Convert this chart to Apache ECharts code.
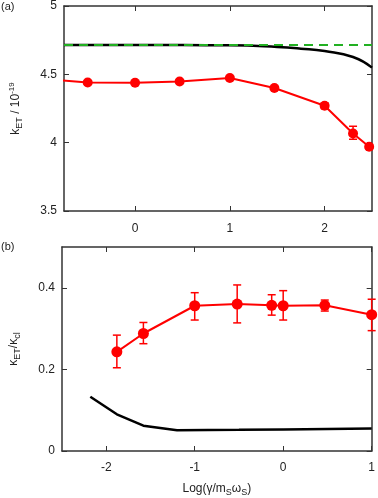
<!DOCTYPE html>
<html>
<head>
<meta charset="utf-8">
<script src="https://cdn.jsdelivr.net/npm/echarts@6/dist/echarts.min.js"></script>
<style>
  html, body { margin: 0; padding: 0; background: #fff; }
  #chart { width: 378px; height: 498px; }
</style>
</head>
<body>
<div id="chart"></div>
<script>
// panel (a): k_ET vs log(gamma)
const aRedX = [-1, -0.5, 0, 0.47, 1, 1.47, 2, 2.3, 2.47];
const aRedY = [4.468, 4.44, 4.438, 4.447, 4.473, 4.40, 4.27, 4.067, 3.97];
const aErrX = [2, 2.3, 2.47];
const aErrLo = [4.25, 4.025, 3.955];
const aErrHi = [4.29, 4.12, 3.985];
const aBlackX = [-0.75, 0, 0.5, 1, 1.5, 1.75, 2, 2.3, 2.5];
const aBlackY = [4.715, 4.715, 4.714, 4.712, 4.70, 4.688, 4.67, 4.627, 4.549];
const aGreenX = [-0.75, 2.5];
const aGreenY = [4.715, 4.715];
const aXTicks = [0, 1, 2];

// panel (b): kappa_ET / kappa_cl
const bRedX = [-1.88, -1.58, -1.0, -0.52, -0.13, 0, 0.47, 1];
const bRedY = [0.243, 0.288, 0.356, 0.360, 0.357, 0.356, 0.357, 0.334];
const bErrLo = [0.204, 0.263, 0.321, 0.314, 0.333, 0.321, 0.343, 0.295];
const bErrHi = [0.284, 0.315, 0.388, 0.407, 0.383, 0.393, 0.370, 0.372];
const bBlackX = [-2.18, -1.88, -1.58, -1.2, -0.5, 0, 0.5, 1];
const bBlackY = [0.133, 0.090, 0.062, 0.051, 0.052, 0.053, 0.054, 0.055];
const bXTicks = [-2, -1, 0, 1];
const bYTicks = [0, 0.2, 0.4];

const zip = (xs, ys) => xs.map((x, i) => [x, ys[i]]);
const zip3 = (xs, lo, hi) => xs.map((x, i) => [x, lo[i], hi[i]]);

const RED = '#ff0000';
const FRAME = '#333';
const TXT = '#222';
const FONT = 'Liberation Sans, Arial, sans-serif';

// error bars with caps
function errItem(params, api) {
  const x = api.value(0);
  const lo = api.coord([x, api.value(1)]);
  const hi = api.coord([x, api.value(2)]);
  const w = 4;
  const style = { stroke: RED, lineWidth: 1.5 };
  return {
    type: 'group',
    children: [
      { type: 'line', shape: { x1: lo[0], y1: lo[1], x2: hi[0], y2: hi[1] }, style: style },
      { type: 'line', shape: { x1: lo[0] - w, y1: lo[1], x2: lo[0] + w, y2: lo[1] }, style: style },
      { type: 'line', shape: { x1: hi[0] - w, y1: hi[1], x2: hi[0] + w, y2: hi[1] }, style: style }
    ]
  };
}

const rich = {
  m: { fontSize: 12, lineHeight: 16, color: TXT, fontFamily: FONT },
  sub: { fontSize: 9, lineHeight: 13, verticalAlign: 'bottom', color: TXT, fontFamily: FONT },
  sup: { fontSize: 8, lineHeight: 12, verticalAlign: 'top', color: TXT, fontFamily: FONT }
};

function frameAxis(extra) {
  return Object.assign({
    type: 'value',
    axisLine: { show: true, onZero: false, lineStyle: { color: FRAME, width: 1.5 } },
    axisTick: { show: true, inside: true, length: 5, lineStyle: { color: FRAME, width: 1 } },
    axisLabel: { show: false },
    splitLine: { show: false }
  }, extra);
}

const labelStyle = { show: true, color: TXT, fontSize: 12, fontFamily: FONT };

let myChart = echarts.init(document.getElementById('chart'), null, { renderer: 'canvas' });
myChart.setOption({
  animation: false,
  grid: [
    { left: 57, right: 6, top: 5, height: 206 },
    { left: 57, right: 6, top: 247, height: 204 }
  ],
  graphic: [
    { type: 'text', left: 1, top: 1, style: { text: '(a)', fontSize: 11, fill: TXT, fontFamily: FONT } },
    { type: 'text', left: 1, top: 241, style: { text: '(b)', fontSize: 11, fill: TXT, fontFamily: FONT } }
  ],
  xAxis: [
    frameAxis({
      gridIndex: 0, min: -0.75, max: 2.5, position: 'bottom',
      axisTick: { show: true, inside: true, length: 5, customValues: aXTicks, lineStyle: { color: FRAME } },
      axisLabel: Object.assign({ customValues: aXTicks, margin: 12 }, labelStyle)
    }),
    frameAxis({
      gridIndex: 0, min: -0.75, max: 2.5, position: 'top',
      axisTick: { show: true, inside: true, length: 5, customValues: aXTicks, lineStyle: { color: FRAME } }
    }),
    frameAxis({
      gridIndex: 1, min: -2.5, max: 1, position: 'bottom',
      axisTick: { show: true, inside: true, length: 5, customValues: bXTicks, lineStyle: { color: FRAME } },
      axisLabel: Object.assign({ customValues: bXTicks, margin: 11 }, labelStyle),
      name: '{m|Log(γ/m}{sub|S}{m|ω}{sub|S}{m|)}',
      nameLocation: 'middle',
      nameGap: 30,
      nameTextStyle: { rich: rich }
    }),
    frameAxis({
      gridIndex: 1, min: -2.5, max: 1, position: 'top',
      axisTick: { show: true, inside: true, length: 5, customValues: bXTicks, lineStyle: { color: FRAME } }
    })
  ],
  yAxis: [
    frameAxis({
      gridIndex: 0, min: 3.5, max: 5, interval: 0.5, position: 'left',
      axisLabel: Object.assign({ margin: 7 }, labelStyle),
      name: '{m|k}{sub|ET}{m| / 10}{sup|-19}',
      nameLocation: 'middle',
      nameRotate: 90,
      nameGap: 40,
      nameTextStyle: { rich: rich }
    }),
    frameAxis({ gridIndex: 0, min: 3.5, max: 5, interval: 0.5, position: 'right' }),
    frameAxis({
      gridIndex: 1, min: 0, max: 0.5, position: 'left',
      axisTick: { show: true, inside: true, length: 5, customValues: bYTicks, lineStyle: { color: FRAME } },
      axisLabel: Object.assign({ margin: 7, customValues: bYTicks }, labelStyle),
      name: '{m|κ}{sub|ET}{m|/κ}{sub|cl}',
      nameLocation: 'middle',
      nameRotate: 90,
      nameGap: 40,
      nameTextStyle: { rich: rich }
    }),
    frameAxis({
      gridIndex: 1, min: 0, max: 0.5, position: 'right',
      axisTick: { show: true, inside: true, length: 5, customValues: bYTicks, lineStyle: { color: FRAME } }
    })
  ],
  series: [
    {
      name: 'classical',
      type: 'line', xAxisIndex: 0, yAxisIndex: 0,
      data: zip(aBlackX, aBlackY),
      smooth: true, showSymbol: false,
      lineStyle: { color: '#000', width: 2.5 }
    },
    {
      name: 'reference',
      type: 'line', xAxisIndex: 0, yAxisIndex: 0,
      data: zip(aGreenX, aGreenY),
      showSymbol: false,
      lineStyle: { color: '#22b022', width: 2, type: [9, 6] }
    },
    {
      name: 'errA',
      type: 'custom', xAxisIndex: 0, yAxisIndex: 0,
      data: zip3(aErrX, aErrLo, aErrHi),
      encode: { x: 0, y: [1, 2] },
      renderItem: errItem
    },
    {
      name: 'kET',
      type: 'line', xAxisIndex: 0, yAxisIndex: 0,
      data: zip(aRedX, aRedY),
      symbol: 'circle', symbolSize: 10,
      itemStyle: { color: RED },
      lineStyle: { color: RED, width: 2 }
    },
    {
      name: 'classicalB',
      type: 'line', xAxisIndex: 2, yAxisIndex: 2,
      data: zip(bBlackX, bBlackY),
      showSymbol: false,
      lineStyle: { color: '#000', width: 2.5 }
    },
    {
      name: 'errB',
      type: 'custom', xAxisIndex: 2, yAxisIndex: 2,
      data: zip3(bRedX, bErrLo, bErrHi),
      encode: { x: 0, y: [1, 2] },
      renderItem: errItem
    },
    {
      name: 'ratio',
      type: 'line', xAxisIndex: 2, yAxisIndex: 2,
      data: zip(bRedX, bRedY),
      symbol: 'circle', symbolSize: 11,
      itemStyle: { color: RED },
      lineStyle: { color: RED, width: 2 }
    }
  ]
});
</script>
</body>
</html>
